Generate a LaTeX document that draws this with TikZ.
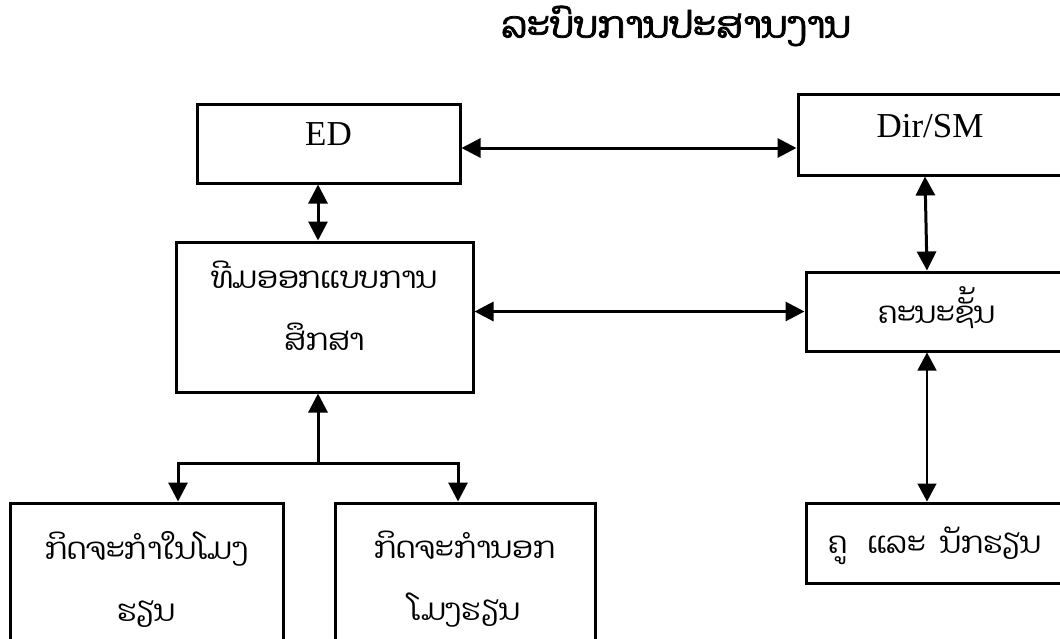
\documentclass[tikz,border=0pt]{standalone}
\usepackage{fontspec}
\setmainfont{Liberation Serif}
\newfontfamily\laofont[Script=Lao]{Dhyana}
\newfontfamily\laotitle[Script=Lao,FakeBold=2]{Dhyana}
\usetikzlibrary{arrows.meta}

\begin{document}
\begin{tikzpicture}[
  x=1pt,y=-1pt,
  box/.style={draw, line width=3pt, align=center, inner sep=0pt, font=\fontsize{35}{42}\selectfont},
  laobox/.style={box, font=\laofont\fontsize{30}{62}\selectfont},
  title/.style={font=\laotitle\fontsize{37}{44}\selectfont},
  dbl/.style={{Triangle[length=19pt,width=19pt]}-{Triangle[length=19pt,width=19pt]}, line width=3pt},
  thindbl/.style={{Triangle[length=18pt,width=19pt]}-{Triangle[length=18pt,width=19pt]}, line width=1.3pt},
  uni/.style={-{Triangle[length=19pt,width=19pt]}, line width=3pt}
]
\clip (0,0) rectangle (1060,638);
\node[title] (title) at (676,26) {ລະບົບການປະສານງານ};
% top row
\node[box, minimum width=263pt, minimum height=79pt, text height=23pt, text depth=19pt] (ed) at (328.5,143.5) {ED};
\node[box, minimum width=264pt, minimum height=81pt, text height=23pt, text depth=18pt] (dir) at (930,134.5) {Dir/SM};
% middle row
\node[laobox, minimum width=297pt, minimum height=150pt, text depth=22pt] (team) at (324.5,317) {ທີມອອກແບບການ\\ສຶກສາ};
\node[laobox, minimum width=262pt, minimum height=79pt, text height=25pt, text depth=2pt] (kana) at (937,311.5) {ຄະນະຊັ້ນ};
% bottom row
\node[laobox, minimum width=273pt, minimum height=152pt] (inclass) at (146.5,579) {ກິດຈະກຳໃນໂມງ\\ຮຽນ};
\node[laobox, minimum width=260pt, minimum height=152pt] (outclass) at (465,579) {ກິດຈະກຳນອກ\\ໂມງຮຽນ};
\node[laobox, minimum width=258pt, minimum height=80pt, text height=24pt, text depth=4pt] (khu) at (935,543) {ຄູ\hspace{20pt}ແລະ\hspace{14pt}ນັກຮຽນ};

\draw[dbl] ([yshift=-4.5pt]ed.east) -- ([yshift=-4.5pt]ed.east -| dir.west);
\draw[dbl] ([xshift=-10.5pt]ed.south) -- ([xshift=-10.5pt]ed.south |- team.north);
\draw[dbl] ([xshift=-5pt]dir.south) -- ([xshift=-10pt]kana.north);
\draw[dbl] (team.east |- kana.west) -- (kana.west);
\draw[thindbl] ([xshift=-8pt]khu.north |- kana.south) -- ([xshift=-8pt]khu.north);
\coordinate (fork) at ([xshift=-6.5pt,yshift=-70pt]team.south);
\draw[uni] (fork) -- (fork |- team.south);
\draw[uni] (fork) -| ([xshift=31.5pt]inclass.north);
\draw[uni] (fork) -| ([xshift=-7pt]outclass.north);
\end{tikzpicture}
\end{document}
